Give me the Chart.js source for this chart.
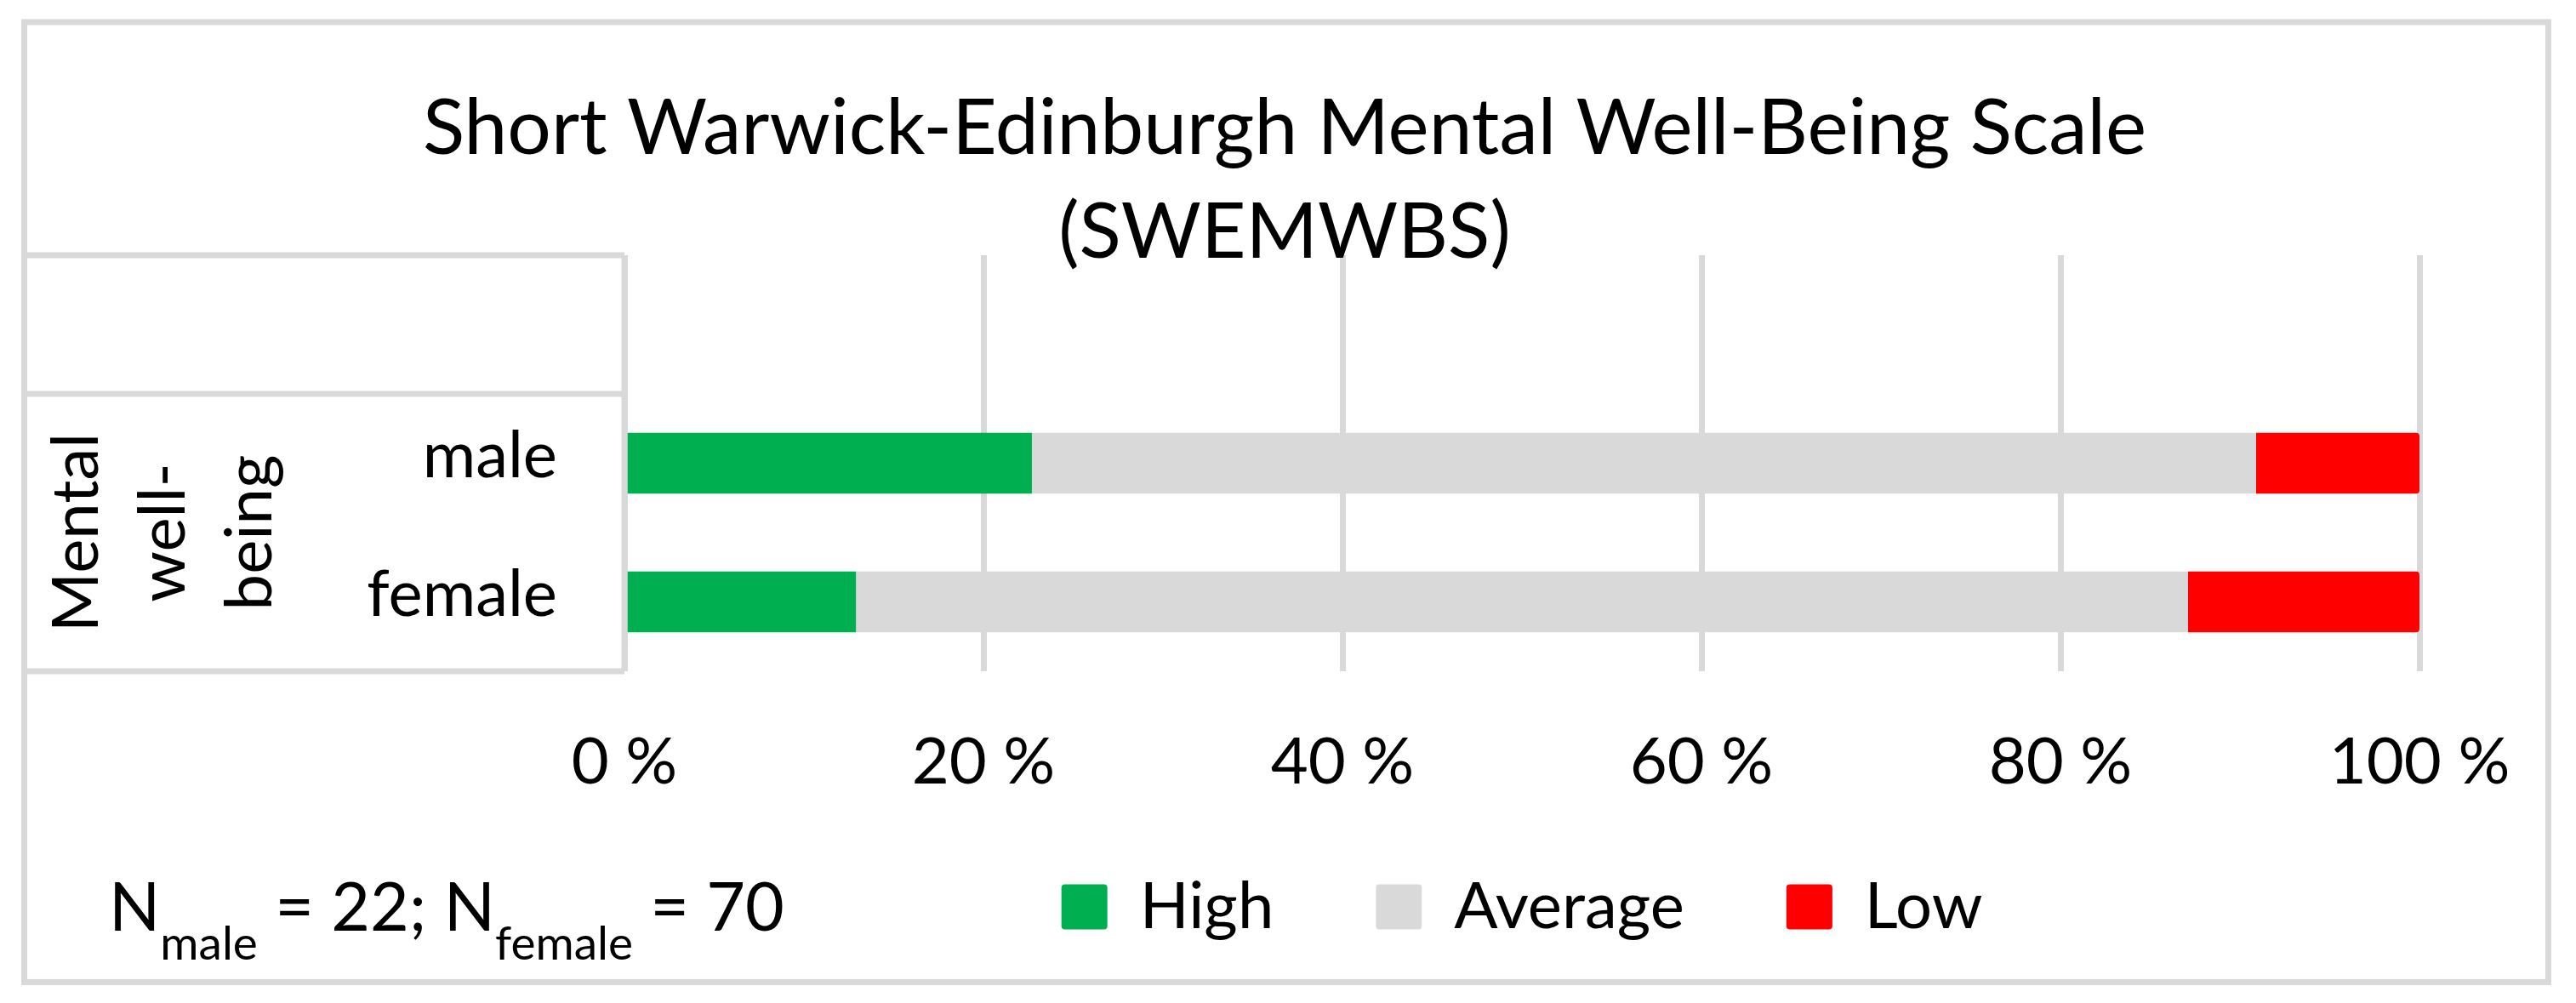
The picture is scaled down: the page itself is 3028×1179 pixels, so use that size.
<!DOCTYPE html>
<html>
<head>
<meta charset="utf-8">
<script src="https://cdn.jsdelivr.net/npm/chart.js@4.4.1/dist/chart.umd.min.js"></script>
<style>
  html, body { margin: 0; padding: 0; background: #fff; }
  canvas { display: block; }
</style>
</head>
<body>
<canvas id="swemwbsChart" width="3028" height="1179"></canvas>
<script>
// Chart values
const titleLines = ['Short Warwick-Edinburgh Mental Well-Being Scale', '(SWEMWBS)'];
const categories = ['', 'male', 'female'];
const groupLabel = ['Mental', 'well-', 'being'];
const seriesNames = ['High', 'Average', 'Low'];
const highValues = [null, 22.7, 12.9];
const averageValues = [null, 68.2, 74.2];
const lowValues = [null, 9.1, 12.9];
const xTicks = [0, 20, 40, 60, 80, 100];
const sampleSizes = [22, 70];

const FONT = 'Lato';
const GRID = '#d9d9d9';
const colors = ['#00b050', '#d9d9d9', '#ff0000'];

// Draws the category table, the outer frame and the sample size note
const framePlugin = {
    id: 'frame',
    beforeDraw(chart) {
        const ctx = chart.ctx;
        ctx.save();
        ctx.fillStyle = '#fff';
        ctx.fillRect(0, 0, chart.width, chart.height);
        ctx.restore();
    },
    afterDraw(chart) {
        const { ctx, chartArea } = chart;
        const y = chart.scales.y;
        const left = 28.5;
        const split = (y.getPixelForValue(0) + y.getPixelForValue(1)) / 2;

        ctx.save();
        ctx.strokeStyle = GRID;
        ctx.lineWidth = 7;
        ctx.beginPath();
        [chartArea.top, split, chartArea.bottom].forEach(py => {
            ctx.moveTo(left, py);
            ctx.lineTo(chartArea.left, py);
        });
        ctx.moveTo(chartArea.left, chartArea.top);
        ctx.lineTo(chartArea.left, chartArea.bottom);
        ctx.stroke();
        ctx.strokeRect(28.5, 26, 2967, 1128.5);

        // rotated group label
        const cy = (split + chartArea.bottom) / 2;
        ctx.fillStyle = '#000';
        ctx.font = '76px ' + FONT;
        ctx.textAlign = 'center';
        ctx.textBaseline = 'alphabetic';
        groupLabel.forEach((line, i) => {
            ctx.save();
            ctx.translate(115 + i * 102, cy);
            ctx.rotate(-Math.PI / 2);
            ctx.fillText(line, 0, 0);
            ctx.restore();
        });

        // N note next to the legend
        const hit = chart.legend.legendHitBoxes[0];
        const base = hit.top + hit.height / 2 + 28;
        const parts = [
            ['N', false], ['male', true], [' = ' + sampleSizes[0] + '; N', false],
            ['female', true], [' = ' + sampleSizes[1], false]
        ];
        let x = 128;
        ctx.textAlign = 'left';
        parts.forEach(([text, sub]) => {
            ctx.font = (sub ? '55px ' : '79px ') + FONT;
            ctx.fillText(text, x, sub ? base + 34 : base);
            x += ctx.measureText(text).width;
        });
        ctx.restore();
    }
};

function renderChart() {
    const ctx = document.getElementById('swemwbsChart').getContext('2d');
    const seriesData = [highValues, averageValues, lowValues];
    new Chart(ctx, {
        type: 'bar',
        data: {
            labels: categories,
            datasets: seriesNames.map((name, i) => ({
                label: name,
                data: seriesData[i],
                backgroundColor: colors[i],
                borderWidth: 0,
                borderRadius: i === 2 ? 4 : 0,
                barPercentage: 0.44,
                categoryPercentage: 1.0
            }))
        },
        options: {
            responsive: false,
            animation: false,
            indexAxis: 'y',
            layout: { padding: { left: 176, right: 184, top: 0, bottom: 65 } },
            plugins: {
                title: {
                    display: true,
                    text: titleLines,
                    color: '#000',
                    font: { family: FONT, size: 91, weight: 'normal', lineHeight: '122px' },
                    padding: { top: 91, bottom: -35 }
                },
                legend: {
                    position: 'bottom',
                    fullSize: false,
                    labels: {
                        boxWidth: 54,
                        boxHeight: 53,
                        padding: 120,
                        color: '#000',
                        useBorderRadius: true,
                        borderRadius: 4,
                        font: { family: FONT, size: 76 }
                    }
                },
                tooltip: { enabled: false }
            },
            scales: {
                x: {
                    stacked: true,
                    min: 0,
                    max: 100,
                    afterBuildTicks: scale => { scale.ticks = xTicks.map(v => ({ value: v })); },
                    afterFit: scale => { scale.height = 119; },
                    ticks: {
                        callback: v => v + ' %',
                        mirror: true,
                        padding: -152.6,
                        color: '#000',
                        maxRotation: 0,
                        font: { family: FONT, size: 76 }
                    },
                    grid: { color: GRID, lineWidth: 7, drawTicks: false },
                    border: { display: false }
                },
                y: {
                    stacked: true,
                    afterFit: scale => { scale.width = 558; },
                    ticks: {
                        padding: 79,
                        labelOffset: -8,
                        color: '#000',
                        font: { family: FONT, size: 76 }
                    },
                    grid: { display: false, drawTicks: false },
                    border: { display: false }
                }
            }
        },
        plugins: [framePlugin]
    });
}

document.fonts.load('76px ' + FONT).then(renderChart, renderChart);
</script>
</body>
</html>
